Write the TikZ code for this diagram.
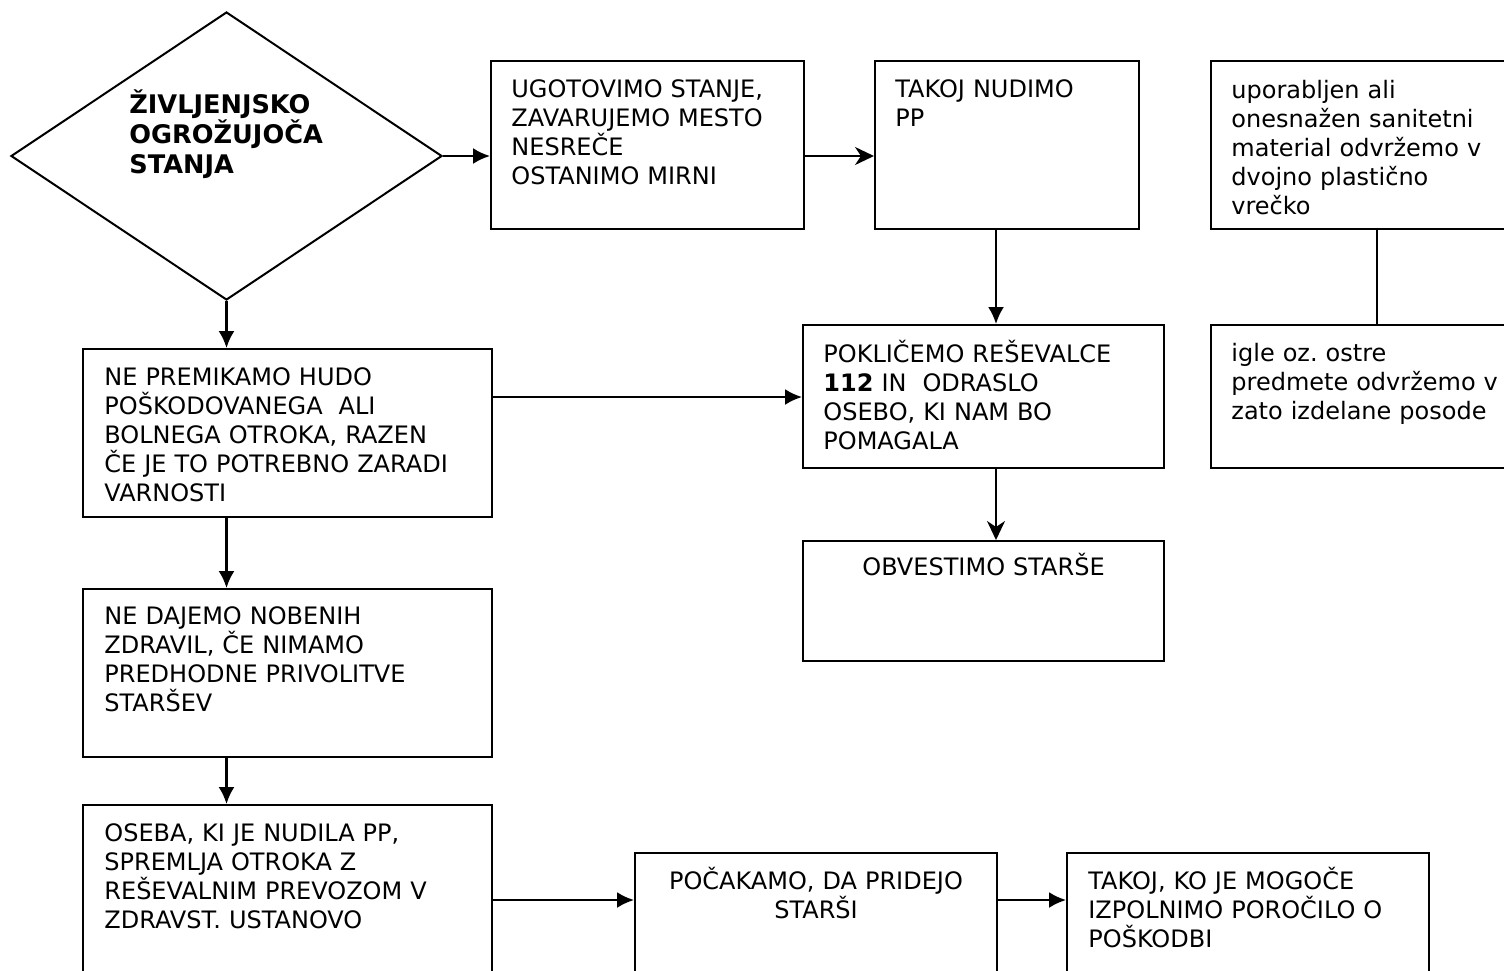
\documentclass[tikz,border=0pt]{standalone}
\usepackage{fontspec}
\setmainfont{DejaVu Sans}
\usetikzlibrary{shapes.geometric,arrows.meta}
\frenchspacing

\begin{document}
\begin{tikzpicture}[
  x=0.5pt, y=-0.5pt,
  box/.style={rectangle, draw, line width=1pt, anchor=north west, inner sep=0pt},
  rhomb/.style={diamond, draw, line width=1pt, inner sep=0pt, minimum width=215.5pt, minimum height=144pt},
  txt/.style={anchor=base west, inner sep=0pt, align=left, text width=185pt, font=\fontsize{12}{14.5}\selectfont},
  arr/.style={-{Latex[length=8.5pt,width=8pt]}, line width=1.1pt},
  arrs/.style={-{Stealth[length=9.5pt,width=9pt,inset=3pt]}, line width=1.1pt},
  link/.style={line width=1pt}
]
\useasboundingbox (0,0) rectangle (1504,970);
\clip (0,0) rectangle (1504,970);
\fill[white] (0,0) rectangle (1504,970);

% Decision
\node[rhomb] (ogroz) at (226.5,156) {};
\node[txt, font=\fontsize{12.8}{15}\selectfont\bfseries] (ogroz-t) at (129,113)
  {ŽIVLJENJSKO\\OGROŽUJOČA\\STANJA};

% Top row
\node[box, minimum width=156.5pt, minimum height=84pt] (ugotovimo) at (490,60) {};
\node[txt] (ugotovimo-t) at ([shift={(21,37)}]ugotovimo.north west)
  {UGOTOVIMO STANJE,\\ZAVARUJEMO MESTO\\NESREČE\\OSTANIMO MIRNI};

\node[box, minimum width=132pt, minimum height=84pt] (takoj) at (874,60) {};
\node[txt] (takoj-t) at ([shift={(21,37)}]takoj.north west) {TAKOJ NUDIMO\\PP};

\node[box, minimum width=168pt, minimum height=84pt] (uporabljen) at (1210,60) {};
\node[txt] (uporabljen-t) at ([shift={(21,38)}]uporabljen.north west)
  {uporabljen ali\\onesnažen sanitetni\\material odvržemo v\\dvojno plastično\\vrečko};

\node[box, minimum width=168pt, minimum height=71.5pt] (igle) at (1210,324) {};
\node[txt] (igle-t) at ([shift={(21,37)}]igle.north west)
  {igle oz. ostre\\predmete odvržemo v\\zato izdelane posode};

% Middle column
\node[box, minimum width=180.5pt, minimum height=71.5pt] (poklicemo) at (802,324) {};
\node[txt] (poklicemo-t) at ([shift={(21,38)}]poklicemo.north west)
  {POKLIČEMO REŠEVALCE\\{\bfseries 112} IN\ \ ODRASLO\\OSEBO, KI NAM BO\\POMAGALA};

\node[box, minimum width=180.5pt, minimum height=60pt] (obvestimo) at (802,540) {};
\node[txt, anchor=base, align=center, text width=180pt] (obvestimo-t)
  at ([yshift=-17.5pt]obvestimo.north) {OBVESTIMO STARŠE};

% Left column
\node[box, minimum width=204.5pt, minimum height=84pt] (nepremikamo) at (82,348) {};
\node[txt] (nepremikamo-t) at ([shift={(22,37)}]nepremikamo.north west)
  {NE PREMIKAMO HUDO\\POŠKODOVANEGA\ \ ALI\\BOLNEGA OTROKA, RAZEN\\ČE JE TO POTREBNO ZARADI\\VARNOSTI};

\node[box, minimum width=204.5pt, minimum height=84pt] (nedajemo) at (82,588) {};
\node[txt] (nedajemo-t) at ([shift={(22,36)}]nedajemo.north west)
  {NE DAJEMO NOBENIH\\ZDRAVIL, ČE NIMAMO\\PREDHODNE PRIVOLITVE\\STARŠEV};

\node[box, minimum width=204.5pt, minimum height=100pt] (oseba) at (82,804) {};
\node[txt] (oseba-t) at ([shift={(22,37)}]oseba.north west)
  {OSEBA, KI JE NUDILA PP,\\SPREMLJA OTROKA Z\\REŠEVALNIM PREVOZOM V\\ZDRAVST. USTANOVO};

% Bottom row
\node[box, minimum width=181pt, minimum height=80pt] (pocakamo) at (634,852) {};
\node[txt, anchor=base, align=center, text width=180pt] (pocakamo-t)
  at ([yshift=-18.5pt]pocakamo.north) {POČAKAMO, DA PRIDEJO\\STARŠI};

\node[box, minimum width=181pt, minimum height=80pt] (takojko) at (1066,852) {};
\node[txt] (takojko-t) at ([shift={(22,37)}]takojko.north west)
  {TAKOJ, KO JE MOGOČE\\IZPOLNIMO POROČILO O\\POŠKODBI};

% Connections
\draw[arr] (ogroz.east) -- (ogroz.east -| ugotovimo.west);
\draw[arrs] (ugotovimo.east |- ogroz.east) -- (takoj.west |- ogroz.east);
\draw[arr] ([xshift=-5.5pt]takoj.south) -- ([xshift=-5.5pt]takoj.south |- poklicemo.north);
\draw[arrs] ([xshift=6.25pt]poklicemo.south) -- ([xshift=6.25pt]obvestimo.north);
\draw[link] ([xshift=-1pt]uporabljen.south) -- ([xshift=-1pt]igle.north);
\draw[arr] (ogroz.south) -- (ogroz.south |- nepremikamo.north);
\draw[arr] ([yshift=18pt]nepremikamo.east) -- ([yshift=18pt]nepremikamo.east -| poklicemo.west);
\draw[arr] (ogroz.south |- nepremikamo.south) -- (ogroz.south |- nedajemo.north);
\draw[arr] (ogroz.south |- nedajemo.south) -- (ogroz.south |- oseba.north);
\draw[arr] ([yshift=-48pt]oseba.north east) -- ([yshift=-48pt]oseba.north east -| pocakamo.west);
\draw[arr] ([yshift=-24pt]pocakamo.north east) -- ([yshift=-24pt]pocakamo.north east -| takojko.west);
\end{tikzpicture}
\end{document}
